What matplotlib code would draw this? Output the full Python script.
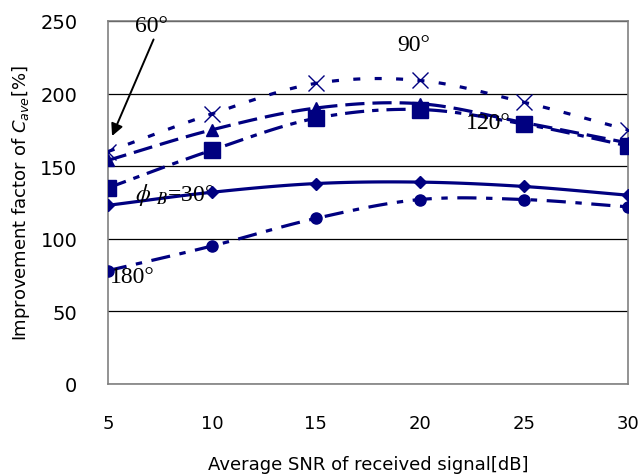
import numpy as np
import matplotlib
matplotlib.use("Agg")
import matplotlib.pyplot as plt

snr = [5, 10, 15, 20, 25, 30]
phi_30 = [123, 132, 138, 139, 136, 130]
phi_60 = [154, 175, 190, 193, 180, 166]
phi_90 = [160, 186, 207, 209, 194, 175]
phi_120 = [135, 161, 183, 189, 179, 164]
phi_180 = [78, 95, 114, 127, 127, 122]

NAVY = "#000080"


def smooth(x, y, n=20):
    # catmull-rom curve through the points, like Excel's smoothed line
    x = np.asarray(x, float)
    y = np.asarray(y, float)
    px = np.concatenate([[2 * x[0] - x[1]], x, [2 * x[-1] - x[-2]]])
    py = np.concatenate([[2 * y[0] - y[1]], y, [2 * y[-1] - y[-2]]])
    xs, ys = [], []
    t = np.linspace(0, 1, n, endpoint=False)
    for i in range(1, len(px) - 2):
        for p, out in ((px, xs), (py, ys)):
            p0, p1, p2, p3 = p[i - 1], p[i], p[i + 1], p[i + 2]
            out.extend(0.5 * ((2 * p1) + (-p0 + p2) * t
                              + (2 * p0 - 5 * p1 + 4 * p2 - p3) * t ** 2
                              + (-p0 + 3 * p1 - 3 * p2 + p3) * t ** 3))
    xs.append(x[-1])
    ys.append(y[-1])
    return xs, ys


fig = plt.figure(figsize=(6.42, 4.77), dpi=100)
ax = fig.add_axes([0.168, 0.193, 0.81, 0.761])

series = [
    (phi_90, (0, (2.2, 4.5)), "x", 11, 1.0),
    (phi_60, (0, (6, 2.5)), "^", 8, 0),
    (phi_120, (0, (6, 2.5, 2, 2.5)), "s", 11, 0),
    (phi_30, "-", "D", 6, 0),
    (phi_180, (0, (6, 3, 2, 3)), "o", 8, 0),
]
for vals, ls, mk, ms, mew in series:
    sx, sy = smooth(snr, vals)
    ax.plot(sx, sy, color=NAVY, linestyle=ls, linewidth=2.3, zorder=3)
    ax.plot(snr, vals, linestyle="none", marker=mk, markersize=ms,
            color=NAVY, markeredgewidth=mew if mew else 1, zorder=4)

ax.set_xlim(5, 30)
ax.set_ylim(0, 250)
ax.set_xticks(snr)
ax.set_yticks(range(0, 251, 50))
ax.yaxis.grid(True, color="black", linewidth=0.9)
ax.set_axisbelow(True)
for s in ax.spines.values():
    s.set_color("#808080")
    s.set_linewidth(1.2)
ax.tick_params(axis="y", direction="in", length=0, labelsize=14, pad=22)
ax.tick_params(axis="x", length=0, labelsize=13, pad=22)

ax.set_xlabel("Average SNR of received signal[dB]", fontsize=13, labelpad=16)
ax.set_ylabel("Improvement factor of $C_{ave}$[%]", fontsize=13, labelpad=6)

serif = {"family": "Liberation Serif", "fontsize": 17, "color": "black"}
ax.text(6.3, 243, "60°", **serif)
ax.text(18.9, 230, "90°", **serif)
ax.text(22.2, 176, "120°", **serif)
ax.text(6.3, 127, r"$\phi$ $_B$=30°", math_fontfamily="stix", **serif)
ax.text(5.1, 70, "180°", **serif)
ax.annotate("", xy=(5.15, 169), xytext=(7.25, 239),
            arrowprops=dict(arrowstyle="-|>", color="black", lw=1.4,
                            mutation_scale=18))

fig.savefig("out.png", dpi=100)
